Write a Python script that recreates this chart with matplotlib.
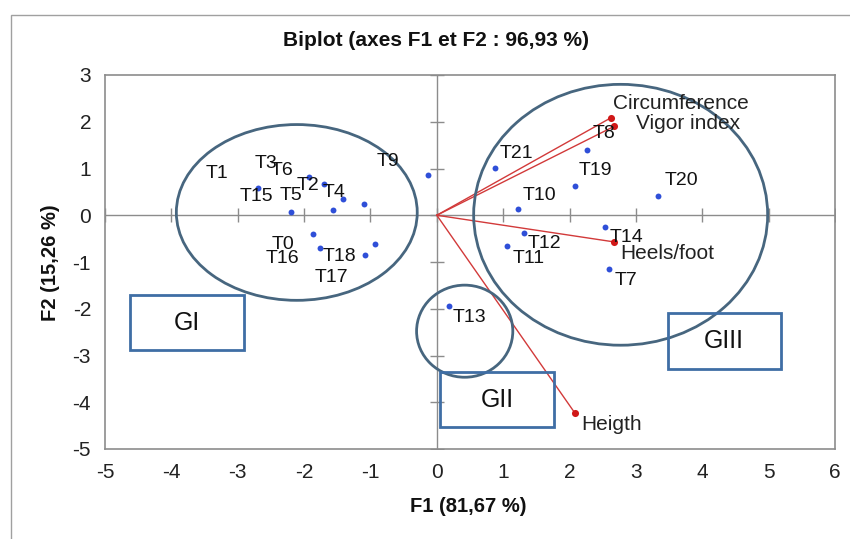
import matplotlib
matplotlib.use("Agg")
import matplotlib.pyplot as plt
from matplotlib.patches import Ellipse, Rectangle
from matplotlib import font_manager

# ---------------- data ----------------
obs_names = ["T0", "T1", "T2", "T3", "T4", "T5", "T6", "T7", "T8", "T9", "T10",
             "T11", "T12", "T13", "T14", "T15", "T16", "T17", "T18", "T19", "T20", "T21"]
obs_f1 = [-1.87, -2.69, -1.41, -1.93, -1.09, -1.57, -1.70, 2.60, 2.27, -0.14, 1.22,
          1.06, 1.31, 0.19, 2.53, -2.19, -1.76, -1.08, -0.93, 2.08, 3.34, 0.87]
obs_f2 = [-0.40, 0.59, 0.34, 0.82, 0.235, 0.12, 0.66, -1.14, 1.40, 0.87, 0.13,
          -0.66, -0.37, -1.95, -0.26, 0.07, -0.69, -0.84, -0.62, 0.635, 0.42, 1.02]

var_names = ["Circumference", "Vigor index", "Heels/foot", "Heigth"]
var_f1 = [2.63, 2.67, 2.67, 2.08]
var_f2 = [2.09, 1.90, -0.57, -4.23]

x_ticks = [-5, -4, -3, -2, -1, 0, 1, 2, 3, 4, 5, 6]
y_ticks = [-5, -4, -3, -2, -1, 0, 1, 2, 3]

group_names = ["GI", "GII", "GIII"]

# ---------------- styling / layout ----------------
W, H = 850, 539
names = {f.name for f in font_manager.fontManager.ttflist}
narrow = "Liberation Sans Narrow" if "Liberation Sans Narrow" in names else "Liberation Sans"
plt.rcParams["font.family"] = ["Liberation Sans", "DejaVu Sans"]
plt.rcParams["axes.unicode_minus"] = False

fig = plt.figure(figsize=(W / 100, H / 100), dpi=100)
ax = fig.add_axes([105 / W, (H - 449) / H, 730 / W, 374 / H])
ax.set_xlim(-5, 6)
ax.set_ylim(-5, 3)

# frame
for s in ax.spines.values():
    s.set_color("#8c8c8c")
    s.set_linewidth(1.2)
ax.set_xticks(x_ticks)
ax.set_yticks(y_ticks)
ax.tick_params(length=0, pad=10, labelsize=15, colors="#222222")
for lab in ax.get_xticklabels() + ax.get_yticklabels():
    lab.set_family([narrow, "DejaVu Sans"])

# zero axes with cross ticks
ax.axhline(0, color="#8c8c8c", lw=1.0, zorder=1)
ax.axvline(0, color="#8c8c8c", lw=1.0, zorder=1)
ax.plot(x_ticks, [0] * len(x_ticks), ls="none", marker="|", ms=10, mew=1.0,
        color="#8c8c8c", zorder=1)
ax.plot([0] * len(y_ticks), y_ticks, ls="none", marker="_", ms=10, mew=1.0,
        color="#8c8c8c", zorder=1)

# variable vectors
for vx, vy in zip(var_f1, var_f2):
    ax.plot([0, vx], [0, vy], color="#d23a3a", lw=1.0, zorder=2)
ax.scatter(var_f1, var_f2, s=26, color="#d01818", zorder=4, linewidths=0)

# observations
ax.scatter(obs_f1, obs_f2, s=18, color="#2f4fd8", zorder=4, linewidths=0)

obs_offsets = {
    "T0": (-30, 11), "T1": (-41, -14), "T2": (-35, -14), "T3": (-43, -13),
    "T4": (-30, -12), "T5": (-42, -14), "T6": (-42, -14), "T7": (17, 12),
    "T8": (17, -16), "T9": (-40, -13), "T10": (22, -14), "T11": (22, 12),
    "T12": (21, 11), "T13": (20, 11), "T14": (22, 10), "T15": (-35, -15),
    "T16": (-38, 11), "T17": (-34, 23), "T18": (-36, 12), "T19": (21, -15),
    "T20": (23, -15), "T21": (22, -14),
}
for n, x, y in zip(obs_names, obs_f1, obs_f2):
    dx, dy = obs_offsets[n]
    ax.annotate(n, (x, y), xytext=(dx, -dy), textcoords="offset pixels",
                ha="center", va="center", fontsize=14, color="#111111", zorder=5)

var_offsets = {"Circumference": (2, -14), "Vigor index": (22, -3),
               "Heels/foot": (6, 12), "Heigth": (6, 11)}
for n, x, y in zip(var_names, var_f1, var_f2):
    dx, dy = var_offsets[n]
    ax.annotate(n, (x, y), xytext=(dx, -dy), textcoords="offset pixels",
                ha="left", va="center", fontsize=15, color="#222222", zorder=5)

# group ellipses
ell_color = "#47667f"
ellipses = [((-2.11, 0.06), 3.63, 3.76), ((0.42, -2.48), 1.45, 1.97),
            ((2.77, 0.01), 4.43, 5.58)]
for (c, w, h) in ellipses:
    ax.add_patch(Ellipse(c, w, h, fill=False, ec=ell_color, lw=2.0, zorder=3))

# group boxes
box_color = "#3f6ea5"
boxes = [(-4.63, -2.89, 1.72, 1.18), (0.05, -4.53, 1.71, 1.17),
         (3.48, -3.29, 1.70, 1.19)]
for g, (x0, y0, bw, bh) in zip(group_names, boxes):
    ax.add_patch(Rectangle((x0, y0), bw, bh, fill=False, ec=box_color, lw=2.0,
                           zorder=3))
    ax.text(x0 + bw / 2, y0 + bh / 2, g, ha="center", va="center", fontsize=18,
            color="#111111", zorder=5)

# titles
fig.text(436 / W, 1 - 40 / H, "Biplot (axes F1 et F2 : 96,93 %)", ha="center",
         va="center", fontsize=15, fontweight="bold", color="#111111")
fig.text(468 / W, 1 - 507 / H, "F1 (81,67 %)", ha="center", va="center",
         fontsize=14.5, fontweight="bold", color="#111111")
fig.text(51 / W, 1 - 263 / H, "F2 (15,26 %)", ha="center", va="center",
         rotation=90, fontsize=14.5, fontweight="bold", color="#111111")

# outer frame of the chart area
fig.patches.append(Rectangle((11 / W, -0.1), 1.1, 1 - 15 / H + 0.1,
                             transform=fig.transFigure, fill=False,
                             ec="#a0a0a0", lw=1.0))

fig.savefig("out.png", dpi=100)
